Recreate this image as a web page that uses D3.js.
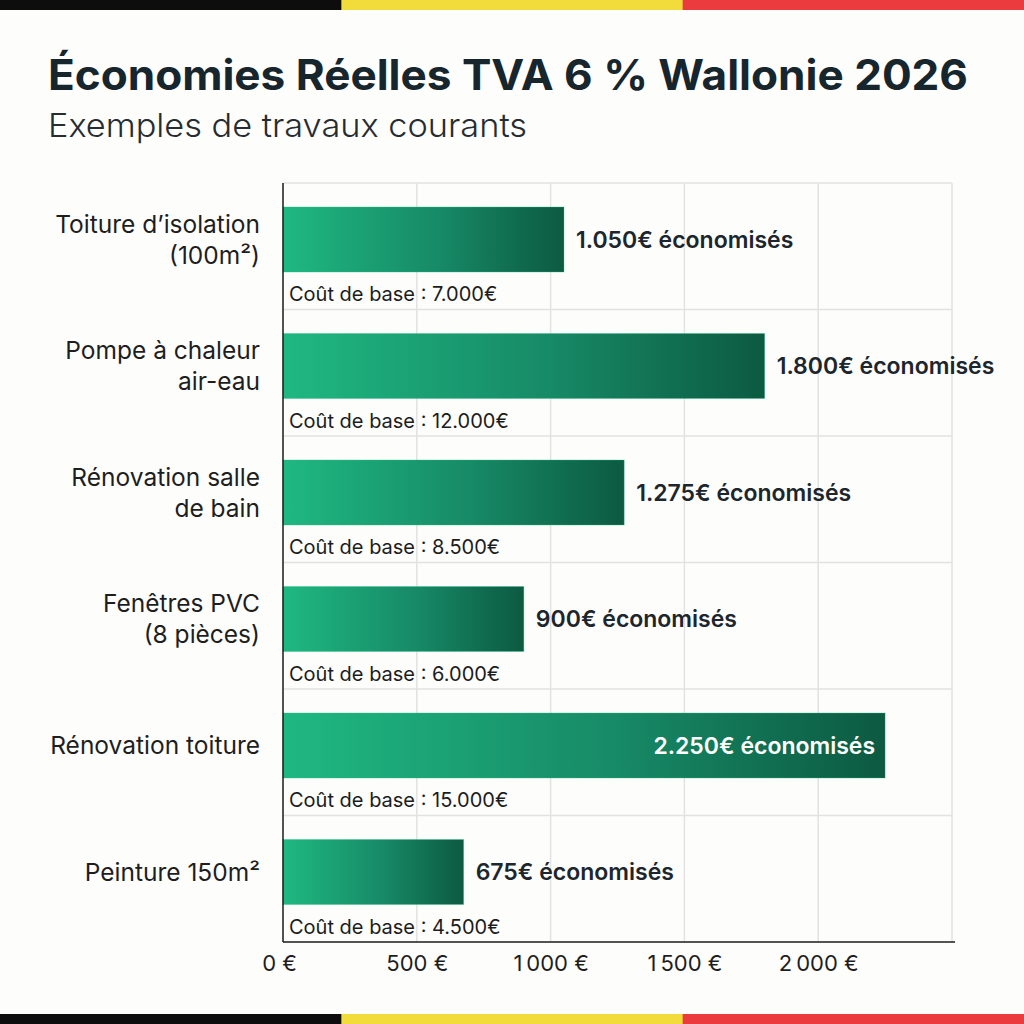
<!DOCTYPE html>
<html>
<head>
<meta charset="utf-8">
<script src="https://cdn.jsdelivr.net/npm/d3@7"></script>
<style>
  html, body { margin: 0; padding: 0; background: #fdfdfc; }
  svg { display: block; font-family: Inter, "Noto Sans", sans-serif; }
</style>
</head>
<body>
<div id="chart"></div>
<script>
// categories (two-line labels), savings and base costs
var categories = [
  ["Toiture d\u2019isolation", "(100m\u00b2)"],
  ["Pompe \u00e0 chaleur", "air-eau"],
  ["R\u00e9novation salle", "de bain"],
  ["Fen\u00eatres PVC", "(8 pi\u00e8ces)"],
  ["R\u00e9novation toiture"],
  ["Peinture 150m\u00b2"]
];
var savings = [1050, 1800, 1275, 900, 2250, 675];
var savingLabels = ["1.050\u20ac", "1.800\u20ac", "1.275\u20ac", "900\u20ac", "2.250\u20ac", "675\u20ac"];
var baseCosts = ["7.000\u20ac", "12.000\u20ac", "8.500\u20ac", "6.000\u20ac", "15.000\u20ac", "4.500\u20ac"];
var ticks = [0, 500, 1000, 1500, 2000];

var width = 1024, height = 1024;
var margin = { top: 183, right: 72, bottom: 82, left: 283 };

var svg = d3.select("#chart")
  .append("svg")
    .attr("width", width)
    .attr("height", height);

svg.append("rect").attr("width", width).attr("height", height).attr("fill", "#fdfdfc");

// belgian flag stripes
var flag = ["#0d0d0d", "#f2dc3c", "#ec3b3f"];
[0, height - 10].forEach(function (y) {
  flag.forEach(function (c, i) {
    svg.append("rect")
      .attr("x", i * width / 3).attr("y", y)
      .attr("width", width / 3 + 1).attr("height", 10)
      .attr("fill", c);
  });
});

// gradient for bars
var defs = svg.append("defs");
var grad = defs.append("linearGradient")
  .attr("id", "barGrad")
  .attr("x1", "0%").attr("x2", "100%").attr("y1", "0%").attr("y2", "0%");
grad.append("stop").attr("offset", "0%").attr("stop-color", "#1fb882");
grad.append("stop").attr("offset", "55%").attr("stop-color", "#178a66");
grad.append("stop").attr("offset", "100%").attr("stop-color", "#0c5a41");

// titles
svg.append("text")
  .attr("x", 48).attr("y", 90)
  .attr("font-size", 42).attr("font-weight", 700)
  .attr("fill", "#17252d")
  .attr("textLength", 920).attr("lengthAdjust", "spacingAndGlyphs")
  .text("\u00c9conomies R\u00e9elles TVA 6 % Wallonie 2026");

svg.append("text")
  .attr("x", 48).attr("y", 137)
  .attr("font-size", 33).attr("font-weight", 300)
  .attr("fill", "#262c30")
  .attr("textLength", 479).attr("lengthAdjust", "spacingAndGlyphs")
  .text("Exemples de travaux courants");

var innerH = height - margin.top - margin.bottom;

var x = d3.scaleLinear().domain([0, 2500]).range([0, 669]);
var y = d3.scaleBand().domain(d3.range(categories.length)).range([0, innerH]);

var g = svg.append("g").attr("transform", "translate(" + margin.left + "," + margin.top + ")");

// vertical gridlines
g.selectAll(".vgrid")
  .data([500, 1000, 1500, 2000, 2500])
  .enter().append("line")
    .attr("x1", function (d) { return x(d); })
    .attr("x2", function (d) { return x(d); })
    .attr("y1", 0).attr("y2", innerH)
    .attr("stroke", "#e2e2e2").attr("stroke-width", 1.5);

// horizontal gridlines between bands
g.selectAll(".hgrid")
  .data(d3.range(categories.length))
  .enter().append("line")
    .attr("x1", 0).attr("x2", x(2500))
    .attr("y1", function (d) { return y(d); })
    .attr("y2", function (d) { return y(d); })
    .attr("stroke", "#e2e2e2").attr("stroke-width", 1.5);

// bars
var barH = 65, barOff = 24;
g.selectAll(".bar")
  .data(savings)
  .enter().append("rect")
    .attr("x", 0)
    .attr("y", function (d, i) { return y(i) + barOff; })
    .attr("width", function (d) { return x(d); })
    .attr("height", barH)
    .attr("fill", "url(#barGrad)")
    .attr("stroke", "#2bc08c").attr("stroke-opacity", 0.35).attr("stroke-width", 1);

// value labels
g.selectAll(".val")
  .data(savings)
  .enter().append("text")
    .attr("x", function (d) { return d >= 2000 ? x(d) - 10 : x(d) + 12; })
    .attr("y", function (d, i) { return y(i) + barOff + barH / 2; })
    .attr("dy", "0.36em")
    .attr("text-anchor", function (d) { return d >= 2000 ? "end" : "start"; })
    .attr("font-size", 23).attr("font-weight", 600)
    .attr("fill", function (d) { return d >= 2000 ? "#ffffff" : "#1c262c"; })
    .text(function (d, i) { return savingLabels[i] + " \u00e9conomis\u00e9s"; });

// base cost labels
g.selectAll(".base")
  .data(baseCosts)
  .enter().append("text")
    .attr("x", 6)
    .attr("y", function (d, i) { return y(i) + barOff + barH + 29; })
    .attr("font-size", 20)
    .attr("fill", "#1c1c1c")
    .text(function (d) { return "Co\u00fbt de base : " + d; });

// category labels
var cat = g.selectAll(".cat")
  .data(categories)
  .enter().append("text")
    .attr("text-anchor", "end")
    .attr("font-size", 24.5)
    .attr("fill", "#1e1e1e")
    .attr("transform", function (d, i) {
      return "translate(-23," + (y(i) + barOff + barH / 2) + ")";
    });
cat.selectAll("tspan")
  .data(function (d) { return d.map(function (t, k) { return { t: t, k: k, n: d.length }; }); })
  .enter().append("tspan")
    .attr("x", 0)
    .attr("y", function (d) { return (d.k - (d.n - 1) / 2) * 31; })
    .attr("dy", "0.36em")
    .text(function (d) { return d.t; });

// left axis line
g.append("line")
  .attr("x1", 0).attr("x2", 0).attr("y1", 0).attr("y2", innerH)
  .attr("stroke", "#1a1a1a").attr("stroke-width", 1.5);

// bottom axis
var xAxis = d3.axisBottom(x)
  .tickValues(ticks)
  .tickSize(0)
  .tickPadding(13)
  .tickFormat(function (d) { return d3.format(",")(d).replace(/,/g, "\u202f") + " \u20ac"; });

var ax = g.append("g")
  .attr("transform", "translate(0," + innerH + ")")
  .call(xAxis);
ax.select(".domain").remove();
ax.selectAll("text")
  .attr("font-size", 22)
  .attr("font-family", "Inter, 'Noto Sans', sans-serif")
  .attr("fill", "#1e1e1e");
ax.selectAll(".tick").filter(function (d) { return d === 0; }).select("text").attr("dx", -4);

g.append("line")
  .attr("x1", 0).attr("x2", x(2500) + 3).attr("y1", innerH).attr("y2", innerH)
  .attr("stroke", "#1a1a1a").attr("stroke-width", 1.5);
</script>
</body>
</html>
